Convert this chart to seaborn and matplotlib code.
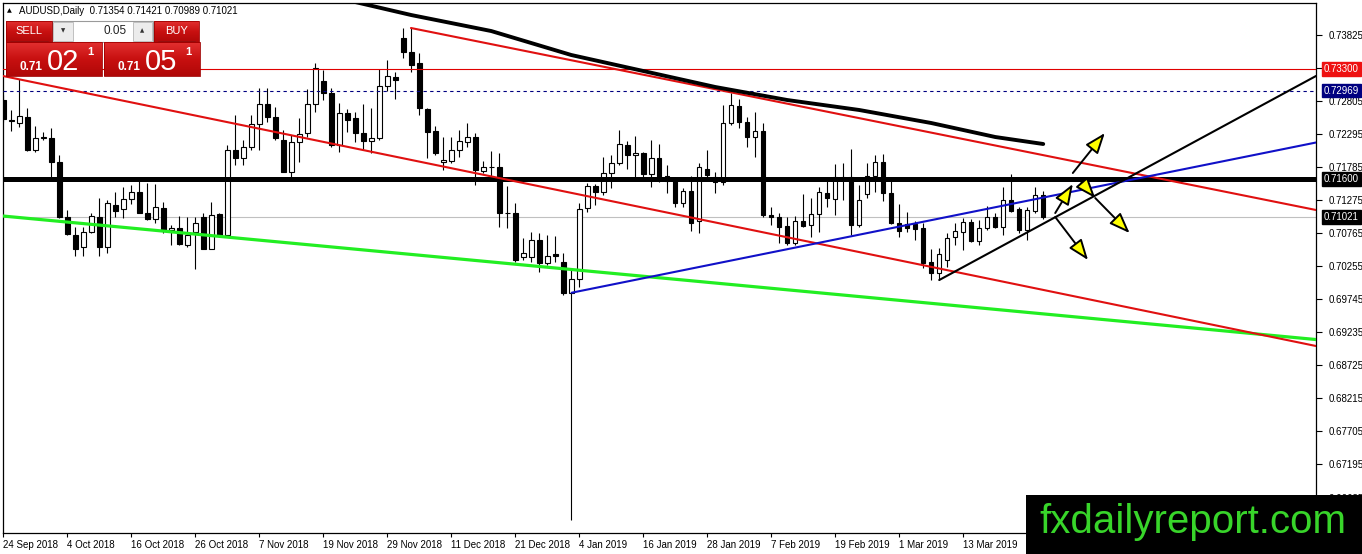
import numpy as np
import pandas as pd
import matplotlib
matplotlib.use("Agg")
import matplotlib.pyplot as plt
import matplotlib.transforms as mtransforms
from matplotlib.patches import Rectangle
from matplotlib.colors import LinearSegmentedColormap
import seaborn as sns

# ---------------- data ----------------
opens = [
    0.72822, 0.72513, 0.72467, 0.72560, 0.72050, 0.72235, 0.72235, 0.71865, 0.71016, 0.70738,
    0.70552, 0.70784, 0.71016, 0.70552, 0.71201, 0.71139, 0.71293, 0.71402, 0.71077, 0.70985,
    0.71154, 0.70815, 0.70846, 0.70583, 0.70784, 0.71016, 0.70521, 0.71062, 0.70738, 0.72050,
    0.71926, 0.72096, 0.72451, 0.72760, 0.72560, 0.72204, 0.71710, 0.72174, 0.72313, 0.72760,
    0.73115, 0.72930, 0.72127, 0.72621, 0.72544, 0.72313, 0.72189, 0.72235, 0.73038, 0.73177,
    0.73779, 0.73563, 0.73393, 0.72683, 0.72343, 0.71865, 0.71880, 0.72050, 0.72174, 0.72251,
    0.71726, 0.71788, 0.71788, 0.71077, 0.71077, 0.70398, 0.70398, 0.70660, 0.70305, 0.70444,
    0.70321, 0.69842, 0.70058, 0.71154, 0.71494, 0.71402, 0.71695, 0.71849, 0.72127, 0.71973,
    0.72004, 0.71679, 0.71926, 0.71649, 0.71602, 0.71232, 0.71417, 0.70954, 0.71757, 0.71633,
    0.71556, 0.72467, 0.72729, 0.72482, 0.72251, 0.72343, 0.71046, 0.71016, 0.70877, 0.70614,
    0.70954, 0.70892, 0.71062, 0.71386, 0.71293, 0.71633, 0.71633, 0.70892, 0.71371, 0.71649,
    0.71865, 0.71386, 0.70923, 0.70907, 0.70907, 0.70846, 0.70321, 0.70151, 0.70352, 0.70707,
    0.70784, 0.70938, 0.70645, 0.70846, 0.71016, 0.70861, 0.71278, 0.71139, 0.70815, 0.71108,
    0.71354]

highs = [
    0.72899, 0.72668, 0.73146, 0.72698, 0.72421, 0.72328, 0.72390, 0.71973, 0.71124, 0.70861,
    0.70861, 0.71077, 0.71309, 0.71278, 0.71402, 0.71479, 0.71510, 0.71587, 0.71541, 0.71525,
    0.71247, 0.70892, 0.71031, 0.71016, 0.71016, 0.71077, 0.71247, 0.71077, 0.72127, 0.72590,
    0.72204, 0.72590, 0.73007, 0.73007, 0.72714, 0.72359, 0.72282, 0.72544, 0.72992, 0.73393,
    0.73285, 0.73007, 0.72776, 0.72683, 0.72637, 0.72760, 0.72698, 0.73301, 0.73440, 0.73254,
    0.73934, 0.73934, 0.73548, 0.72698, 0.72421, 0.72251, 0.72251, 0.72359, 0.72467, 0.72313,
    0.71880, 0.72035, 0.72004, 0.71494, 0.71232, 0.70691, 0.70784, 0.70768, 0.70738, 0.70722,
    0.70460, 0.70228, 0.71232, 0.71541, 0.71525, 0.71942, 0.71973, 0.72359, 0.72189, 0.72266,
    0.72019, 0.72204, 0.72143, 0.71818, 0.71633, 0.71463, 0.71649, 0.71849, 0.72050, 0.71710,
    0.72745, 0.72930, 0.72837, 0.72560, 0.72637, 0.72467, 0.71170, 0.71077, 0.71016, 0.71031,
    0.71371, 0.71309, 0.71479, 0.71587, 0.71834, 0.71849, 0.72065, 0.71510, 0.71849, 0.71973,
    0.71988, 0.71633, 0.71216, 0.71093, 0.70954, 0.70923, 0.70521, 0.70537, 0.70768, 0.70923,
    0.71000, 0.70985, 0.70969, 0.71185, 0.71077, 0.71479, 0.71679, 0.71170, 0.71170, 0.71479,
    0.71421]

lows = [
    0.72482, 0.72343, 0.72405, 0.72035, 0.72019, 0.72204, 0.71633, 0.71000, 0.70738, 0.70413,
    0.70413, 0.70768, 0.70413, 0.70460, 0.71016, 0.71000, 0.71216, 0.71077, 0.70969, 0.70923,
    0.70768, 0.70583, 0.70583, 0.70552, 0.70213, 0.70521, 0.70521, 0.70722, 0.70707, 0.71818,
    0.71818, 0.72050, 0.72050, 0.72482, 0.72204, 0.71710, 0.71633, 0.71865, 0.72251, 0.72637,
    0.72822, 0.72096, 0.72019, 0.72328, 0.72174, 0.72050, 0.72004, 0.72204, 0.72961, 0.72837,
    0.73470, 0.73254, 0.72590, 0.71926, 0.71973, 0.71741, 0.71849, 0.71942, 0.72096, 0.71510,
    0.71695, 0.71633, 0.70861, 0.70846, 0.70321, 0.70352, 0.70321, 0.70166, 0.70274, 0.70321,
    0.69811, 0.66337, 0.69935, 0.71093, 0.71201, 0.71355, 0.71463, 0.71818, 0.71757, 0.71618,
    0.71587, 0.71479, 0.71556, 0.71386, 0.71170, 0.71170, 0.70799, 0.70768, 0.71633, 0.71386,
    0.71510, 0.72436, 0.72390, 0.72096, 0.71942, 0.71016, 0.70892, 0.70614, 0.70583, 0.70583,
    0.70861, 0.70707, 0.70784, 0.71170, 0.71046, 0.71278, 0.70738, 0.70861, 0.71309, 0.71402,
    0.71263, 0.70907, 0.70707, 0.70784, 0.70660, 0.70228, 0.70043, 0.70043, 0.70244, 0.70583,
    0.70506, 0.70630, 0.70583, 0.70815, 0.70846, 0.70738, 0.71093, 0.70768, 0.70660, 0.71077,
    0.70989]

closes = [
    0.72529, 0.72498, 0.72575, 0.72050, 0.72235, 0.72251, 0.71865, 0.71016, 0.70753, 0.70521,
    0.70784, 0.71031, 0.70552, 0.71232, 0.71108, 0.71293, 0.71402, 0.71077, 0.70985, 0.71170,
    0.70815, 0.70846, 0.70599, 0.70738, 0.70923, 0.70521, 0.71046, 0.70738, 0.72050, 0.71926,
    0.72096, 0.72451, 0.72760, 0.72560, 0.72235, 0.71710, 0.72174, 0.72297, 0.72760, 0.73316,
    0.72930, 0.72127, 0.72621, 0.72513, 0.72313, 0.72189, 0.72235, 0.73038, 0.73193, 0.73131,
    0.73563, 0.73362, 0.72698, 0.72328, 0.72004, 0.71896, 0.72050, 0.72189, 0.72251, 0.71741,
    0.71788, 0.71790, 0.71077, 0.71075, 0.70352, 0.70460, 0.70660, 0.70305, 0.70413, 0.70413,
    0.69842, 0.70058, 0.71139, 0.71494, 0.71402, 0.71695, 0.71849, 0.72143, 0.71973, 0.72004,
    0.71679, 0.71926, 0.71587, 0.71571, 0.71232, 0.71417, 0.70923, 0.71788, 0.71664, 0.71556,
    0.72467, 0.72745, 0.72482, 0.72251, 0.72343, 0.71046, 0.71016, 0.70861, 0.70614, 0.70954,
    0.70877, 0.71062, 0.71402, 0.71309, 0.71633, 0.71635, 0.70892, 0.71278, 0.71649, 0.71865,
    0.71386, 0.70923, 0.70799, 0.70846, 0.70830, 0.70305, 0.70151, 0.70444, 0.70691, 0.70799,
    0.70938, 0.70645, 0.70846, 0.71016, 0.70861, 0.71278, 0.71108, 0.70815, 0.71124, 0.71355,
    0.71021]

date_labels = ["24 Sep 2018", "4 Oct 2018", "16 Oct 2018", "26 Oct 2018", "7 Nov 2018",
               "19 Nov 2018", "29 Nov 2018", "11 Dec 2018", "21 Dec 2018", "4 Jan 2019",
               "16 Jan 2019", "28 Jan 2019", "7 Feb 2019", "19 Feb 2019", "1 Mar 2019",
               "13 Mar 2019", "25 Mar 2019"]
date_label_bars = [0, 8, 16, 24, 32, 40, 48, 56, 64, 72, 80, 88, 96, 104, 112, 120, 128]

price_ticks = [0.73825, 0.73315, 0.72805, 0.72295, 0.71785, 0.71275, 0.70765, 0.70255,
               0.69745, 0.69235, 0.68725, 0.68215, 0.67705, 0.67195, 0.66685]
# tick hidden behind the 0.73300 level label in the reference
hidden_ticks = [0.73315]

# moving average (black thick curve)
ma_bars = [40, 44, 51, 61, 71, 80, 89, 98, 107, 116, 124, 130]
ma_vals = [0.74443, 0.74335, 0.74134, 0.73887, 0.73517, 0.73270, 0.73023, 0.72822,
           0.72668, 0.72467, 0.72251, 0.72143]

# trend lines (bar index, price)
red_upper_bars, red_upper_vals = [50.96, 164.1], [0.73934, 0.71124]
red_lower_bars, red_lower_vals = [-0.04, 164.1], [0.73193, 0.69024]
green_bars, green_vals = [-0.04, 164.1], [0.71031, 0.69124]
blue_bars, blue_vals = [71.05, 164.1], [0.69847, 0.72166]
trend_bars, trend_vals = [117.0, 164.1], [0.70043, 0.73193]

# horizontal levels
level_733 = 0.73300
level_ask = 0.72969
level_716 = 0.71600
level_bid = 0.71021

# arrows (tail bar, tail price, tip bar, tip price)
arrows = [
    (131.5, 0.71077, 133.7, 0.71525),
    (133.7, 0.71695, 137.7, 0.72312),
    (134.4, 0.71612, 136.5, 0.71309),
    (136.5, 0.71309, 140.8, 0.70768),
    (131.5, 0.71016, 135.6, 0.70352),
]

header_text = "AUDUSD,Daily  0.71354 0.71421 0.70989 0.71021"

# ---------------- style ----------------
sns.set_theme(style="white")
plt.rcParams["font.family"] = ["Liberation Sans", "DejaVu Sans"]

W, H = 1362, 554
fig = plt.figure(figsize=(W / 100, H / 100), dpi=100)
fig.patch.set_facecolor("white")
ax = fig.add_axes([3 / W, 1 - 533 / H, (1316 - 3) / W, (533 - 3) / H])
ax.set_facecolor("white")

df = pd.DataFrame({"o": opens, "h": highs, "l": lows, "c": closes})
df["x"] = np.arange(len(df))
up = df["c"] >= df["o"]

# wicks
ax.vlines(df["x"], df["l"], df["h"], color="black", lw=0.8, zorder=2)
# bodies
bottoms = np.minimum(df["o"], df["c"])
heights = np.abs(df["c"] - df["o"])
faces = np.where(up, "white", "black")
ax.bar(df["x"], heights, bottom=bottoms, width=0.56, color=faces,
       edgecolor="black", linewidth=0.8, zorder=3)

# horizontal levels
ax.axhline(level_bid, color="#c0c0c0", lw=0.8, zorder=1)
ax.axhline(level_733, color="#e00000", lw=0.8, zorder=4)
ax.axhline(level_ask, color="#000080", lw=0.8, ls=(0, (3, 3)), zorder=4)
ax.axhline(level_716, color="black", lw=3.6, zorder=5)

# trend lines through seaborn
def draw_line(xs, ys, color, lw):
    d = pd.DataFrame({"bar": xs, "price": ys})
    sns.lineplot(data=d, x="bar", y="price", color=color, lw=lw, ax=ax,
                 estimator=None, sort=False, legend=False, zorder=6)

draw_line(green_bars, green_vals, "#22ee22", 2.3)
draw_line(red_lower_bars, red_lower_vals, "#e01010", 1.5)
draw_line(red_upper_bars, red_upper_vals, "#e01010", 1.5)
draw_line(blue_bars, blue_vals, "#1010c8", 1.5)
draw_line(trend_bars, trend_vals, "black", 1.5)
draw_line(ma_bars, ma_vals, "black", 2.8)

for tx, ty, hx, hy in arrows:
    ax.annotate("", xy=(hx, hy), xytext=(tx, ty),
                arrowprops=dict(arrowstyle="-|>,head_length=0.9,head_width=0.34",
                                fc="#ffff00", ec="black", lw=1.4,
                                shrinkA=0, shrinkB=0, mutation_scale=14),
                zorder=7, annotation_clip=False)

ax.set_xlim(-0.04, 164.1)
ax.set_ylim(0.66137, 0.74320)
ax.set_xlabel("")
ax.set_ylabel("")

ax.set_xticks(date_label_bars)
ax.set_xticklabels(date_labels, ha="left")
ax.set_yticks(price_ticks)
ax.set_yticklabels(["" if v in hidden_ticks else f"{v:.5f}" for v in price_ticks])
ax.yaxis.tick_right()
ax.tick_params(axis="y", which="both", right=True, left=False, labelright=True,
               labelleft=False, length=4, width=0.8, color="black", pad=5,
               labelsize=7, labelcolor="black")
ax.tick_params(axis="x", bottom=True, length=3, width=0.8, color="black", pad=2,
               labelsize=7, labelcolor="black")
for s in ax.spines.values():
    s.set_visible(True)
    s.set_color("black")
    s.set_linewidth(0.9)
ax.grid(False)

# price labels on the right axis
blend = mtransforms.blended_transform_factory(ax.transAxes, ax.transData)
xlab = 1 + 8 / 1313
for val, bg in [(level_733, "#ee1111"), (level_ask, "#000080"),
                (level_716, "black"), (level_bid, "black")]:
    ax.text(xlab, val, f"{val:.5f}", transform=blend, color="white", fontsize=7,
            va="center", ha="left", clip_on=False, zorder=20,
            bbox=dict(boxstyle="square,pad=0.2", fc=bg, ec=bg))

# ---------------- overlay (header, trade panel, watermark) ----------------
ov = fig.add_axes([0, 0, 1, 1], zorder=10)
ov.patch.set_alpha(0)
ov.axis("off")

ov.text(7, 10.5, "▲", fontsize=4.5, color="black", va="center", ha="left",
        family="DejaVu Sans")
ov.text(19, 10.5, header_text, fontsize=7, color="black", va="center", ha="left")

red_cmap = LinearSegmentedColormap.from_list("r", ["#e23030", "#c81010", "#b00808"])
grad = np.linspace(0, 1, 64).reshape(-1, 1)

# SELL / BUY buttons
for x0, w, label in [(6, 46, "SELL"), (154, 45, "BUY")]:
    ov.imshow(grad, extent=(x0, x0 + w, 42, 21), cmap=red_cmap, aspect="auto",
              interpolation="bilinear", zorder=1)
    ov.add_patch(Rectangle((x0, 21), w, 21, fc="none", ec="#a00000", lw=0.6, zorder=2))
    ov.plot([x0 + 4, x0 + w - 4], [41.3, 41.3], color="#901010", lw=0.6, zorder=3)
    ov.text(x0 + w / 2, 31.5, label, color="white", fontsize=8, ha="center",
            va="center", zorder=3)

# lot box
ov.add_patch(Rectangle((52, 21), 101, 21, fc="white", ec="#9a9a9a", lw=0.8, zorder=1))
ov.add_patch(Rectangle((53, 22), 20, 19, fc="#ececec", ec="#b8b8b8", lw=0.6, zorder=2))
ov.add_patch(Rectangle((133, 22), 19, 19, fc="#ececec", ec="#b8b8b8", lw=0.6, zorder=2))
ov.text(63, 31, "▼", fontsize=4, ha="center", va="center", color="#333333",
        family="DejaVu Sans", zorder=3)
ov.text(142.5, 31, "▲", fontsize=4, ha="center", va="center", color="#333333",
        family="DejaVu Sans", zorder=3)
ov.text(127, 31.5, "0.05", fontsize=8.5, ha="right", va="center", color="#222222",
        zorder=3)

# price boxes
for x0, big in [(6, "02"), (104, "05")]:
    ov.imshow(grad, extent=(x0, x0 + 96, 76, 42), cmap=red_cmap, aspect="auto",
              interpolation="bilinear", zorder=1)
    ov.add_patch(Rectangle((x0, 42), 96, 34, fc="none", ec="#a00000", lw=0.6, zorder=2))
    ov.text(x0 + 14, 70, "0.71", color="white", fontsize=8.5, fontweight="bold",
            ha="left", va="baseline", zorder=3)
    ov.text(x0 + 41, 70.5, big, color="white", fontsize=21, ha="left",
            va="baseline", zorder=3)
    ov.text(x0 + 81, 55, "1", color="white", fontsize=8, fontweight="bold",
            ha="left", va="baseline", zorder=3)

# watermark
ov.add_patch(Rectangle((1026, 495), 336, 59, fc="black", ec="none", zorder=5))
ov.text(1193, 522, "fxdailyreport.com", color="#38d52a", fontsize=29,
        ha="center", va="center", zorder=6, family="Liberation Sans")

ov.set_xlim(0, W)
ov.set_ylim(H, 0)

fig.savefig("out.png", dpi=100)
